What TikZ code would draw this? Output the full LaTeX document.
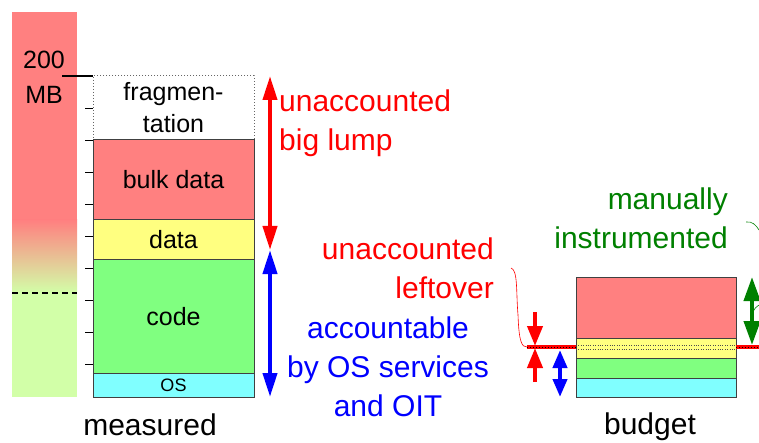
\documentclass[tikz,border=0pt]{standalone}
\usepackage{fontspec}
\setmainfont{Liberation Sans}
\usetikzlibrary{arrows.meta,positioning}
\definecolor{bulkred}{HTML}{FF8080}
\definecolor{datayellow}{HTML}{FFFF80}
\definecolor{codegreen}{HTML}{80FF80}
\definecolor{oscyan}{HTML}{80FFFF}
\definecolor{palegreen}{HTML}{D2FFA8}
\definecolor{instrgreen}{HTML}{008000}
\tikzset{
  layer/.style={draw=black!75, line width=1pt, inner sep=0pt, outer sep=0pt,
    align=center, font=\fontsize{25}{32}\selectfont},
  bigtext/.style={font=\fontsize{30}{39}\selectfont, inner sep=0pt},
  span/.style={line width=4pt, {Triangle[width=14pt,length=24pt]}-{Triangle[width=14pt,length=24pt]}},
  halfspan/.style={line width=4pt, -{Triangle[width=15pt,length=20pt]}},
}
\begin{document}
\begin{tikzpicture}[x=1pt,y=-1pt]
\useasboundingbox (0,0) rectangle (759,443);
\fill[bulkred] (12,12) rectangle (77,221);
\shade[top color=bulkred, bottom color=palegreen] (12,220) rectangle (77,293);
\fill[palegreen] (12,293) rectangle (77,397);
\draw[dash pattern=on 6pt off 4pt, line width=1.5pt] (12,293) -- (77,293);
\node[font=\fontsize{25}{35}\selectfont, align=center, inner sep=0pt] (mb) at (44,77) {200\\MB};
\draw[line width=1.5pt] (62,76) -- (93,76);
\foreach \y in {108,140,...,365}
	\draw[line width=0.8pt] (85,\y) -- (93,\y);
\node[layer, draw=black!60, dotted, fill=white, minimum width=161pt, minimum height=64pt, anchor=north west] (frag) at (93,76) {fragmen-\\tation};
\node[layer, fill=bulkred, minimum width=161pt, minimum height=80pt, below=0pt of frag] (bulk) {bulk data};
\node[layer, fill=datayellow, minimum width=161pt, minimum height=40pt, below=0pt of bulk] (data) {data};
\node[layer, fill=codegreen, minimum width=161pt, minimum height=113pt, below=0pt of data] (code) {code};
\node[layer, fill=oscyan, minimum width=161pt, minimum height=24pt, below=0pt of code, font=\fontsize{18}{20}\selectfont] (os) {OS};
\node[bigtext] (measured) at (150,425) {measured};
\coordinate (lumptop) at (270,76);
\coordinate (lumpbot) at (270,250);
\coordinate (osbot) at (270,397);
\draw[span, red] (lumptop) -- (lumpbot);
\draw[span, blue] (lumpbot) -- (osbot);
\node[bigtext, red, align=left, anchor=west] (lump) at (279,123) {unaccounted\\big lump};
\node[bigtext, red, align=right, anchor=east] (leftover) at (494,268) {unaccounted\\leftover};
\node[bigtext, blue, align=center] (acct) at (388,367) {accountable\\by OS services\\and OIT};
\node[bigtext, instrgreen, align=right, anchor=east] (manual) at (728,218) {manually\\instrumented};
\node[layer, fill=bulkred, minimum width=160pt, minimum height=61pt, anchor=north west] (bbulk) at (576,277) {};
\node[layer, fill=datayellow, minimum width=160pt, minimum height=20pt, below=0pt of bbulk] (bdata) {};
\node[layer, fill=codegreen, minimum width=160pt, minimum height=20pt, below=0pt of bdata] (bcode) {};
\node[layer, fill=oscyan, minimum width=160pt, minimum height=19pt, below=0pt of bcode] (bos) {};
\node[bigtext] (budget) at (650,427) {budget};
\draw[dotted, black!70] ([yshift=-7pt]bdata.north west) -- ([yshift=-7pt]bdata.north east);
\draw[dotted, black!70] ([yshift=-11pt]bdata.north west) -- ([yshift=-11pt]bdata.north east);
\coordinate (lvl) at (527,347);
\coordinate (lvlend) at (759,347);
\draw[red, line width=3.5pt] (lvl) -- (lvl -| bdata.west);
\draw[red, line width=3.5pt] (bdata.east |- lvl) -- (lvlend);
\draw[dotted, line width=1pt] (lvl) -- (lvl -| bdata.west);
\draw[dotted, line width=1pt] (bdata.east |- lvl) -- (lvlend);
\draw[red, line width=0.6pt] (511,268) .. controls (518,270) and (516,292) .. (518,315) .. controls (519,343) and (522,347) .. (lvl);
\draw[halfspan, red] (535,312) -- (535,346);
\draw[halfspan, red] (535,382) -- (535,348);
\draw[blue, line width=4pt, {Triangle[width=14pt,length=18pt]}-{Triangle[width=14pt,length=18pt]}] (560,350) -- (560,397);
\draw[instrgreen, line width=4pt, {Triangle[width=16pt,length=24pt]}-{Triangle[width=16pt,length=24pt]}] (752,277) -- (752,345);
\draw[instrgreen, line width=0.6pt] (746,222) .. controls (752,221) and (756,225) .. (759,230);
\draw[instrgreen, line width=0.6pt] (753,312) .. controls (755,308) .. (759,305);
\end{tikzpicture}
\end{document}
